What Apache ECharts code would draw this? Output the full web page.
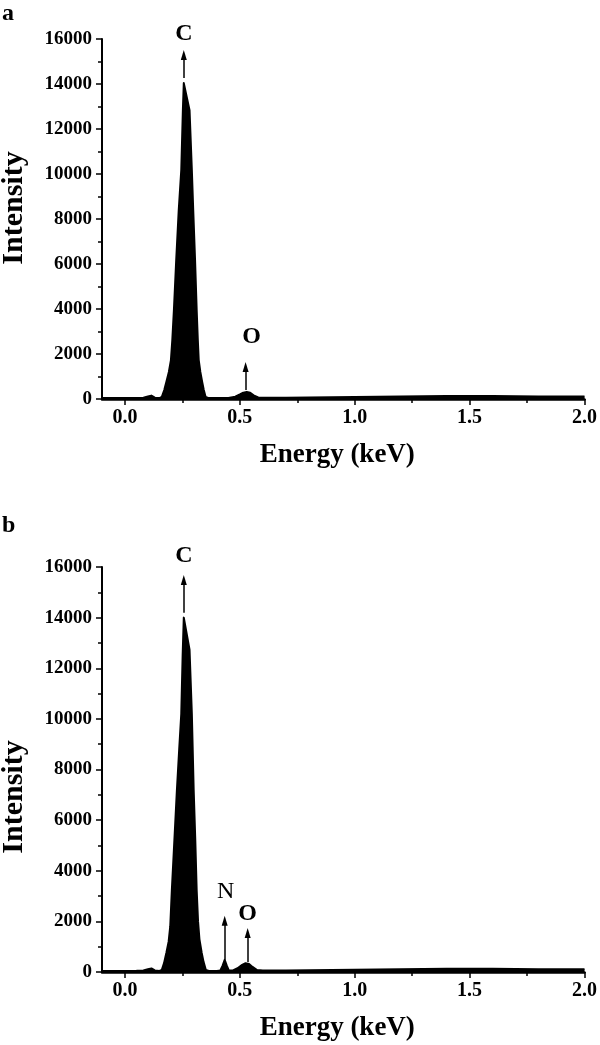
<!DOCTYPE html>
<html>
<head>
<meta charset="utf-8">
<script src="https://cdn.jsdelivr.net/npm/echarts@6/dist/echarts.min.js"></script>
<style>
html,body{margin:0;padding:0;background:#fff;}
#chart{width:600px;height:1045px;}
</style>
</head>
<body>
<div id="chart"></div>
<script>
// ---- Data ----
const energyA = [-0.1, -0.05, 0.0, 0.05, 0.08, 0.1, 0.115, 0.13, 0.15, 0.16, 0.171, 0.18, 0.191, 0.2, 0.206, 0.213, 0.223, 0.234, 0.245, 0.252, 0.256, 0.281, 0.291, 0.297, 0.305, 0.312, 0.317, 0.321, 0.328, 0.336, 0.343, 0.351, 0.365, 0.4, 0.45, 0.48, 0.5, 0.515, 0.53, 0.545, 0.56, 0.58, 0.6, 0.7, 0.8, 0.9, 1.0, 1.1, 1.2, 1.3, 1.4, 1.5, 1.6, 1.7, 1.8, 1.9, 2.0];
const intensityA = [40, 40, 40, 45, 60, 110, 150, 60, 40, 90, 400, 760, 1200, 1730, 2620, 3960, 6180, 8400, 10180, 12840, 14040, 12840, 10180, 8400, 6180, 3960, 2620, 1730, 1200, 760, 400, 90, 40, 40, 50, 100, 200, 280, 310, 280, 160, 70, 60, 60, 70, 80, 90, 100, 110, 120, 130, 130, 130, 120, 110, 110, 110];

const energyB = [-0.1, -0.05, 0.0, 0.05, 0.08, 0.1, 0.115, 0.13, 0.15, 0.16, 0.17, 0.18, 0.19, 0.197, 0.204, 0.215, 0.226, 0.236, 0.245, 0.251, 0.256, 0.281, 0.291, 0.299, 0.306, 0.312, 0.318, 0.324, 0.334, 0.342, 0.352, 0.365, 0.4, 0.415, 0.425, 0.434, 0.443, 0.452, 0.47, 0.49, 0.51, 0.525, 0.54, 0.555, 0.575, 0.6, 0.7, 0.8, 0.9, 1.0, 1.1, 1.2, 1.3, 1.4, 1.5, 1.6, 1.7, 1.8, 1.9, 2.0];
const intensityB = [40, 40, 40, 45, 60, 110, 140, 60, 40, 80, 350, 750, 1200, 1800, 3240, 5200, 7190, 8800, 10200, 12500, 14000, 12730, 10200, 7190, 5200, 3240, 2000, 1300, 750, 400, 80, 40, 40, 60, 250, 480, 250, 60, 60, 150, 280, 350, 320, 200, 80, 60, 60, 70, 80, 90, 100, 110, 120, 130, 130, 130, 120, 110, 110, 110];

const xMajorTicks = [0.0, 0.5, 1.0, 1.5, 2.0];
const xMinorTicks = [0.25, 0.75, 1.25, 1.75];

// peak annotations: element, energy, arrow start, arrow end (intensity)
const arrowsA = [
  {name: 'C', energy: 0.256, from: 14270, to: 15290, dist: 9, pad: 0, weight: 'bold'},
  {name: 'O', energy: 0.525, from: 400, to: 1420, dist: 18, pad: 12, weight: 'bold'}
];
const arrowsB = [
  {name: 'C', energy: 0.256, from: 14190, to: 15490, dist: 12, pad: 0, weight: 'bold'},
  {name: 'N', energy: 0.434, from: 480, to: 2020, dist: 17, pad: 2, weight: 'normal'},
  {name: 'O', energy: 0.534, from: 400, to: 1540, dist: 7, pad: 0, weight: 'bold'}
];

const FONT = 'Liberation Serif';

function pairs(xs, ys) { return xs.map((x, i) => [x, ys[i]]); }

function markLines(arrows) {
  return {
    silent: true,
    animation: false,
    symbol: ['none', 'triangle'],
    symbolSize: [6, 10],
    lineStyle: {color: '#000', width: 1.5, type: 'solid'},
    data: arrows.map(a => [
      {coord: [a.energy, a.from],
       label: {show: true, position: 'end', formatter: a.name, distance: a.dist,
               color: '#000', fontFamily: FONT, fontWeight: a.weight, fontSize: 24,
               padding: [0, 0, 0, a.pad]}},
      {coord: [a.energy, a.to]}
    ])
  };
}

function xAxes(gi) {
  return [
    {
      type: 'value', gridIndex: gi, min: -0.1, max: 2.0, position: 'bottom',
      axisLine: {show: true, onZero: false, lineStyle: {color: '#000', width: 2.5}},
      axisTick: {show: true, inside: false, length: 6, lineStyle: {color: '#000', width: 1.5}, customValues: xMajorTicks},
      axisLabel: {show: true, customValues: xMajorTicks, formatter: v => v.toFixed(1),
                  color: '#000', fontFamily: FONT, fontWeight: 'bold', fontSize: 20, margin: 9},
      splitLine: {show: false},
      name: 'Energy (keV)', nameLocation: 'middle', nameGap: 43,
      nameTextStyle: {color: '#000', fontFamily: FONT, fontWeight: 'bold', fontSize: 27, padding: [0, 12, 0, 0]}
    },
    {
      type: 'value', gridIndex: gi, min: -0.1, max: 2.0, position: 'bottom',
      axisLine: {show: false, onZero: false},
      axisTick: {show: true, inside: false, length: 4, lineStyle: {color: '#000', width: 1.5}, customValues: xMinorTicks},
      axisLabel: {show: false},
      splitLine: {show: false}
    }
  ];
}

function yAxis(gi) {
  return {
    type: 'value', gridIndex: gi, min: 0, max: 16000, interval: 2000,
    axisLine: {show: true, onZero: false, lineStyle: {color: '#000', width: 2}},
    axisTick: {show: true, inside: false, length: 6, lineStyle: {color: '#000', width: 1.5}},
    minorTick: {show: true, splitNumber: 2, length: 4, lineStyle: {color: '#000', width: 1.5}},
    axisLabel: {color: '#000', fontFamily: FONT, fontWeight: 'bold', fontSize: 19, margin: 10,
                formatter: v => String(v)},
    splitLine: {show: false}
  };
}

function spectrum(xi, yi, xs, ys, arrows) {
  return {
    type: 'line', xAxisIndex: xi, yAxisIndex: yi,
    data: pairs(xs, ys),
    showSymbol: false, smooth: false,
    lineStyle: {color: '#000', width: 2, join: 'round'},
    areaStyle: {color: '#000', opacity: 1},
    itemStyle: {color: '#000'},
    animation: false, silent: true, clip: false,
    markLine: markLines(arrows)
  };
}

const chart = echarts.init(document.getElementById('chart'), null, {renderer: 'canvas'});
chart.setOption({
  backgroundColor: '#fff',
  animation: false,
  grid: [
    {left: 102, right: 13, top: 39, height: 360},
    {left: 102, right: 13, top: 567, height: 405}
  ],
  xAxis: [...xAxes(0), ...xAxes(1)],
  yAxis: [yAxis(0), yAxis(1)],
  series: [
    spectrum(0, 0, energyA, intensityA, arrowsA),
    spectrum(2, 1, energyB, intensityB, arrowsB)
  ],
  graphic: [
    {type: 'text', left: 2, top: 2, style: {text: 'a', fill: '#000', font: 'bold 24px "Liberation Serif"'}},
    {type: 'text', left: 2, top: 514, style: {text: 'b', fill: '#000', font: 'bold 24px "Liberation Serif"'}},
    {type: 'text', x: 14, y: 208, rotation: Math.PI / 2,
     style: {text: 'Intensity', fill: '#000', font: 'bold 30px "Liberation Serif"', align: 'center', verticalAlign: 'middle'}},
    {type: 'text', x: 14, y: 797, rotation: Math.PI / 2,
     style: {text: 'Intensity', fill: '#000', font: 'bold 30px "Liberation Serif"', align: 'center', verticalAlign: 'middle'}}
  ]
});
</script>
</body>
</html>
